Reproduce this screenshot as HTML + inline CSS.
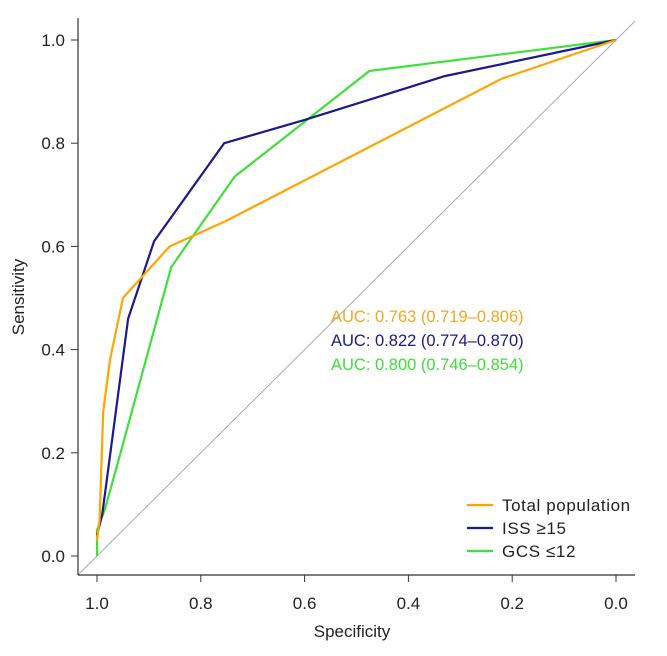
<!DOCTYPE html>
<html><head><meta charset="utf-8"><style>
body{margin:0;background:#fff}
text{font-family:"Liberation Sans",sans-serif}
</style></head><body>
<svg width="667" height="651" xmlns="http://www.w3.org/2000/svg">
<g id="plot"></g>
</svg>
<script>
const xTicks=[1.0,0.8,0.6,0.4,0.2,0.0];
const yTicks=[0.0,0.2,0.4,0.6,0.8,1.0];
const seriesNames=["Total population","ISS ≥15","GCS ≤12"];
const aucLabels=["AUC: 0.763 (0.719–0.806)","AUC: 0.822 (0.774–0.870)","AUC: 0.800 (0.746–0.854)"];
const totalSpec=[1,0.995,0.988,0.975,0.95,0.86,0.75,0.22,0];
const totalSens=[0.03,0.07,0.28,0.38,0.50,0.60,0.65,0.925,1];
const issSpec=[1,0.99,0.94,0.89,0.755,0.6,0.33,0];
const issSens=[0.04,0.08,0.46,0.61,0.80,0.845,0.93,1];
const gcsSpec=[1,1,0.985,0.96,0.857,0.735,0.475,0];
const gcsSens=[0,0.05,0.09,0.18,0.56,0.735,0.94,1];
const colors=["#ffa500","#1a1a8c","#3ee03a"];
const textColors=["#f5a623","#1a1a8c","#3ee03a"];
const NS="http://www.w3.org/2000/svg";
const g=document.getElementById('plot');
const X=v=>616+(97-616)*v;
const Y=v=>556+(40-556)*v;
function el(t,a,p){const e=document.createElementNS(NS,t);for(const k in a)e.setAttribute(k,a[k]);(p||g).appendChild(e);return e;}
const defs=el('defs',{});const cp=el('clipPath',{id:'c'},defs);el('rect',{x:78,y:18,width:557,height:557},cp);
const diag=el('line',{x1:X(1.04),y1:Y(-0.04),x2:X(-0.04),y2:Y(1.04),stroke:'#aaa','stroke-width':1,'clip-path':'url(#c)'});


const ya=el('line',{x1:78,y1:18,x2:78,y2:575,stroke:'#333','stroke-width':1.2});


const xa=el('line',{x1:78,y1:575,x2:635,y2:575,stroke:'#333','stroke-width':1.2});


xTicks.forEach(v=>{
 el('line',{x1:X(v),y1:575,x2:X(v),y2:582,stroke:'#333'});
 const t=el('text',{x:X(v),y:609,'text-anchor':'middle','font-size':17,fill:'#222'});t.textContent=v.toFixed(1);
 
 
});
yTicks.forEach(v=>{
 el('line',{x1:71,y1:Y(v),x2:78,y2:Y(v),stroke:'#333'});
 const t=el('text',{x:65,y:Y(v)+6,'text-anchor':'end','font-size':17,fill:'#222'});t.textContent=v.toFixed(1);
 
 
});
const xt=el('text',{x:352,y:637,'text-anchor':'middle','font-size':17,fill:'#222'});xt.textContent='Specificity';


const yt=el('text',{x:24,y:297,'text-anchor':'middle','font-size':17,fill:'#222',transform:'rotate(-90 24 297)'});yt.textContent='Sensitivity';


const specs=[totalSpec,issSpec,gcsSpec],sens=[totalSens,issSens,gcsSens];
const names=['total-population-curve','iss-curve','gcs-curve'];
[2,1,0].forEach(i=>{
 const pts=specs[i].map((s,j)=>X(s)+','+Y(sens[i][j])).join(' ');
 const p=el('polyline',{points:pts,fill:'none',stroke:colors[i],'stroke-width':2.2});
 
 
});
aucLabels.forEach((s,i)=>{
 const t=el('text',{x:331,y:322+i*24,'font-size':16.5,fill:textColors[i]});t.textContent=s;
 
 
});
seriesNames.forEach((s,i)=>{
 const y=505+i*23;
 el('line',{x1:467,y1:y,x2:493,y2:y,stroke:colors[i],'stroke-width':2.2});
 const t=el('text',{x:502,y:y+6,'font-size':17,'letter-spacing':0.6,fill:'#222'});t.textContent=s;
 
 
});
</script>
</body></html>
